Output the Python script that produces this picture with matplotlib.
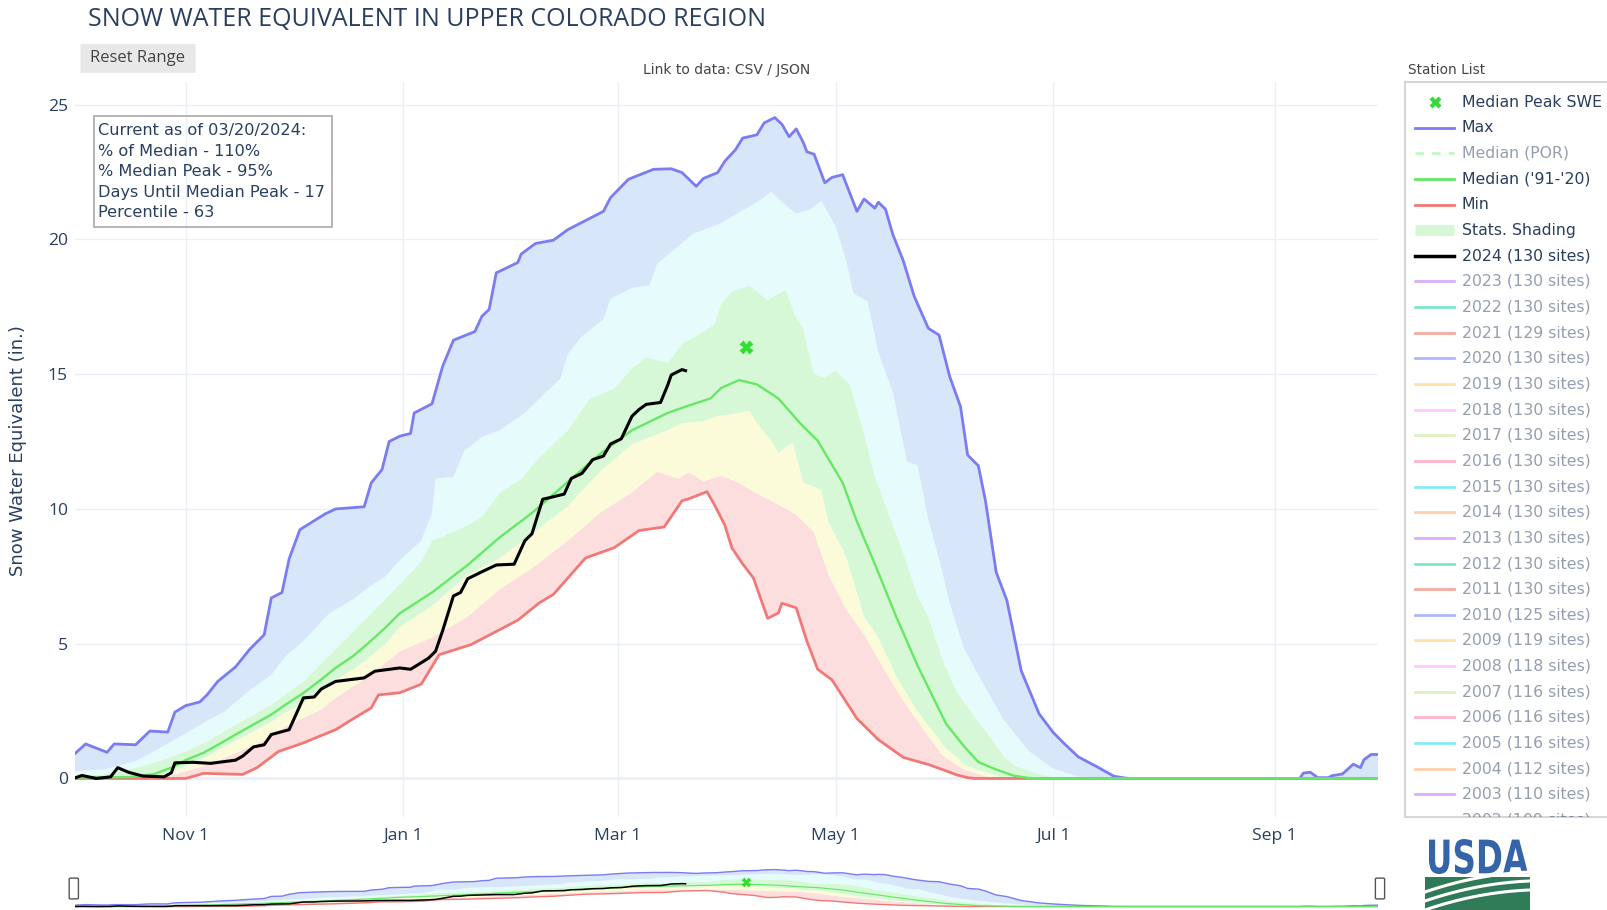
import numpy as np
import matplotlib
matplotlib.use('Agg')
import matplotlib.pyplot as plt
from matplotlib.patches import Rectangle, FancyBboxPatch, PathPatch
from matplotlib.textpath import TextPath
from matplotlib.font_manager import FontProperties
from matplotlib.path import Path
from datetime import date

plt.rcParams['font.family'] = ['Open Sans', 'DejaVu Sans']

# x = day of water year (0 = Oct 1 2023), y = SWE in inches
max_day = [0, 3, 9, 11, 17, 21, 26, 28, 31, 35, 37, 40, 45, 49, 53, 55, 58, 60, 63, 70,
           73, 81, 83, 86, 88, 91, 94, 95, 100, 103, 106, 112, 114, 116, 118, 124, 125, 129, 134, 138,
           143, 148, 150, 155, 162, 167, 170, 174, 176, 180, 182, 185, 187, 191, 193, 196, 198, 200, 202, 204,
           205, 207, 210, 212, 215, 219, 221, 224, 225, 227, 229, 232, 235, 237, 239, 242, 245, 248, 250, 253,
           255, 258, 261, 265, 270, 274, 277, 281, 286, 291, 295, 343, 344, 346, 348, 351, 352, 355, 358, 360,
           361, 363, 365]
max_swe = [0.92, 1.28, 0.97, 1.28, 1.25, 1.76, 1.72, 2.46, 2.70, 2.84, 3.1, 3.6, 4.14, 4.8, 5.33, 6.7, 6.9, 8.15, 9.23, 9.81,
           10.0, 10.08, 10.97, 11.46, 12.5, 12.7, 12.8, 13.56, 13.9, 15.3, 16.26, 16.58, 17.15, 17.4, 18.76, 19.14, 19.46, 19.85, 19.97, 20.36,
           20.7, 21.04, 21.55, 22.23, 22.6, 22.62, 22.48, 21.97, 22.26, 22.48, 22.9, 23.33, 23.76, 23.88, 24.32, 24.52, 24.27, 23.81, 24.1, 23.59,
           23.25, 23.16, 22.1, 22.3, 22.4, 21.04, 21.5, 21.16, 21.38, 21.12, 20.2, 19.2, 17.9, 17.3, 16.7, 16.45, 14.9, 13.8, 12.0, 11.6,
           10.3, 7.65, 6.6, 4.0, 2.4, 1.7, 1.3, 0.8, 0.45, 0.08, 0.0, 0.0, 0.2, 0.23, 0.03, 0.03, 0.1, 0.17, 0.53, 0.4,
           0.7, 0.89, 0.89]

p90_day = [0, 8, 17, 23, 28, 36, 42, 48, 55, 59, 64, 71, 78, 83, 87, 91, 97, 100, 101, 106,
           109, 114, 119, 126, 129, 136, 138, 142, 148, 150, 156, 161, 163, 166, 173, 181, 186, 192, 195, 198,
           202, 206, 209, 213, 216, 218, 222, 225, 229, 233, 236, 239, 242, 245, 249, 253, 260, 267, 274, 281,
           286, 365]
p90_swe = [0.27, 0.33, 0.64, 1.07, 1.44, 2.06, 2.49, 3.17, 3.85, 4.53, 5.1, 6.1, 6.66, 7.16, 7.5, 8.1, 8.82, 9.85, 11.13, 11.19,
           12.15, 12.67, 12.92, 13.56, 13.95, 14.85, 15.74, 16.4, 17.04, 17.8, 18.2, 18.3, 19.08, 19.42, 20.2, 20.6, 21.0, 21.46, 21.77, 21.38,
           20.95, 21.12, 21.43, 20.5, 19.2, 18.0, 17.7, 15.8, 14.36, 11.75, 11.62, 9.6, 8.15, 6.49, 4.83, 3.84, 2.19, 1.03, 0.36, 0.07,
           0.0, 0.0]

p70_day = [0, 8, 17, 25, 31, 38, 45, 55, 64, 73, 82, 91, 97, 100, 109, 114, 119, 125, 130, 138,
           144, 151, 156, 160, 166, 170, 175, 179, 181, 184, 189, 194, 199, 202, 204, 207, 210, 213, 217, 221,
           224, 228, 232, 236, 239, 243, 247, 252, 256, 260, 263, 269, 275, 280, 365]
p70_swe = [0.09, 0.15, 0.40, 0.70, 1.01, 1.44, 2.0, 2.74, 3.6, 4.8, 6.0, 7.22, 8.05, 8.82, 9.33, 9.72, 10.6, 11.13, 11.9, 12.92,
           14.08, 14.46, 15.23, 15.62, 15.42, 16.13, 16.5, 16.84, 17.62, 18.08, 18.28, 17.75, 18.15, 17.1, 16.7, 15.0, 14.88, 15.14, 14.62, 12.8,
           11.23, 9.79, 8.36, 6.79, 6.0, 4.4, 3.2, 2.3, 1.6, 0.85, 0.5, 0.2, 0.02, 0.0, 0.0]

med_day = [0, 15, 22, 27, 31, 36, 41, 45, 50, 55, 59, 64, 69, 73, 78, 82, 87, 91, 100, 110,
           119, 128, 138, 147, 156, 166, 172, 178, 181, 186, 191, 197, 203, 208, 215, 219, 224, 230, 236, 240,
           244, 249, 253, 258, 263, 267, 270, 365]
med_swe = [0.03, 0.05, 0.15, 0.4, 0.68, 0.95, 1.32, 1.63, 2.0, 2.37, 2.74, 3.17, 3.67, 4.1, 4.55, 5.0, 5.6, 6.13, 6.9, 7.92,
           8.95, 9.85, 11.0, 12.03, 12.92, 13.56, 13.84, 14.1, 14.49, 14.78, 14.62, 14.1, 13.19, 12.53, 10.97, 9.53, 7.96, 6.0, 4.18, 3.1,
           2.02, 1.19, 0.61, 0.33, 0.1, 0.02, 0.0, 0.0]

p30_day = [0, 20, 26, 31, 36, 41, 45, 50, 55, 59, 64, 69, 73, 78, 82, 87, 91, 100, 110, 119,
           128, 138, 147, 156, 166, 170, 176, 180, 184, 189, 191, 195, 197, 201, 204, 209, 211, 216, 221, 225,
           230, 236, 240, 244, 247, 249, 253, 256, 260, 263, 365]
p30_swe = [0.0, 0.0, 0.2, 0.45, 0.75, 1.1, 1.4, 1.75, 2.1, 2.45, 2.8, 3.25, 3.65, 4.05, 4.45, 5.0, 5.62, 6.4, 7.54, 8.18,
           9.08, 10.1, 11.38, 12.4, 12.92, 13.18, 13.25, 13.45, 13.51, 13.64, 13.19, 12.53, 12.08, 12.47, 10.97, 10.7, 9.53, 8.22, 6.0, 5.22,
           3.79, 2.48, 1.8, 1.1, 0.78, 0.53, 0.3, 0.2, 0.03, 0.0, 0.0]

p10_day = [0, 22, 27, 31, 36, 41, 45, 50, 55, 59, 64, 69, 73, 78, 83, 87, 91, 100, 110, 119,
           128, 138, 147, 156, 163, 169, 172, 176, 181, 186, 190, 195, 202, 207, 211, 216, 221, 226, 232, 238,
           243, 249, 255, 260, 365]
p10_swe = [0.0, 0.0, 0.11, 0.27, 0.46, 0.70, 0.95, 1.22, 1.57, 1.94, 2.25, 2.56, 2.99, 3.42, 3.85, 4.3, 4.72, 5.23, 6.0, 7.03,
           7.8, 8.82, 9.85, 10.62, 11.38, 11.13, 11.36, 11.03, 11.23, 10.97, 10.64, 10.31, 9.79, 9.14, 7.57, 6.27, 5.35, 4.18, 2.87, 1.75,
           0.85, 0.33, 0.08, 0.0, 0.0]

min_day = [0, 31, 34, 36, 47, 51, 57, 64, 73, 79, 83, 85, 91, 97, 102, 111, 124, 130, 134, 143,
           151, 158, 165, 170, 172, 177, 179, 182, 184, 187, 190, 194, 197, 198, 202, 205, 208, 212, 219, 225,
           232, 239, 244, 247, 250, 252, 365]
min_swe = [0.0, 0.0, 0.11, 0.19, 0.15, 0.4, 1.0, 1.32, 1.81, 2.3, 2.62, 3.1, 3.18, 3.5, 4.59, 4.97, 5.87, 6.51, 6.83, 8.18,
           8.56, 9.2, 9.33, 10.3, 10.38, 10.64, 10.18, 9.4, 8.55, 7.96, 7.44, 5.94, 6.14, 6.5, 6.33, 5.09, 4.05, 3.66, 2.22, 1.44,
           0.78, 0.52, 0.28, 0.13, 0.03, 0.0, 0.0]

wy2024_day = [0, 2, 6, 10, 12, 15, 19, 25, 27, 28, 33, 38, 45, 47, 50, 53, 55, 60, 64, 67,
              69, 73, 81, 84, 91, 94, 99, 101, 103, 106, 108, 110, 114, 118, 123, 126, 128, 131, 133, 137,
              139, 142, 145, 148, 150, 153, 156, 158, 160, 164, 166, 167, 170, 171]
wy2024_swe = [0.02, 0.11, 0.0, 0.06, 0.4, 0.23, 0.09, 0.06, 0.21, 0.58, 0.6, 0.56, 0.68, 0.83, 1.17, 1.25, 1.63, 1.81, 2.99, 3.02,
              3.32, 3.6, 3.73, 3.98, 4.1, 4.05, 4.46, 4.72, 5.49, 6.77, 6.9, 7.41, 7.67, 7.92, 7.95, 8.82, 9.08, 10.36, 10.42, 10.55,
              11.13, 11.32, 11.83, 11.96, 12.41, 12.6, 13.44, 13.69, 13.88, 13.95, 14.59, 14.97, 15.17, 15.13]

peak_day = 188
peak_swe = 16.0

info_lines = ["Current as of 03/20/2024:", "% of Median - 110%", "% Median Peak - 95%",
              "Days Until Median Peak - 17", "Percentile - 63"]

tick_dates = [date(2023, 11, 1), date(2024, 1, 1), date(2024, 3, 1),
              date(2024, 5, 1), date(2024, 7, 1), date(2024, 9, 1)]
wy_start = date(2023, 10, 1)

years = list(range(2023, 2001, -1))
year_sites = [130, 130, 129, 130, 130, 130, 130, 130, 130, 130, 130, 130, 130, 125, 119, 118, 116, 116, 116, 112, 110, 109]
year_colors = ['#ab63fa', '#00cc96', '#EF553B', '#636efa', '#FECB52', '#FF97FF', '#B6E880', '#FF6692', '#19d3f3', '#FFA15A']

MAX_C = '#7b7cf2'
MIN_C = '#f27878'
MED_C = '#66e866'
TXT = '#2a3f5f'
W, H = 1608, 910

fig = plt.figure(figsize=(W / 100, H / 100), dpi=100)


def fig_xy(x, y):
    return x / W, 1 - y / H


def draw_traces(ax, lw):
    bands = [(min_day, min_swe, p10_day, p10_swe, '#fcdede'),
             (p10_day, p10_swe, p30_day, p30_swe, '#fbfbd9'),
             (p30_day, p30_swe, p70_day, p70_swe, '#d7f8d7'),
             (p70_day, p70_swe, p90_day, p90_swe, '#e6fbfb'),
             (p90_day, p90_swe, max_day, max_swe, '#d7e6f9')]
    for d1, v1, d2, v2, c in bands:
        xs = np.concatenate([d1, d2[::-1]])
        ys = np.concatenate([v1, v2[::-1]])
        ax.fill(xs, ys, color=c, lw=0, zorder=1)
    ax.plot(max_day, max_swe, color=MAX_C, lw=lw, zorder=3)
    ax.plot(min_day, min_swe, color=MIN_C, lw=lw, zorder=3)
    ax.plot(med_day, med_swe, color=MED_C, lw=lw * 0.85, zorder=4)
    ax.plot(wy2024_day, wy2024_swe, color='black', lw=lw * 1.1, zorder=5)
    ax.plot([peak_day], [peak_swe], ls='none', marker='X', ms=4 + 3 * lw, color='#33dd33', mec='none', zorder=6)


# main chart
ax = fig.add_axes([74.9 / W, 1 - 817 / H, 1303.4 / W, 735 / H])
draw_traces(ax, 2)
ax.set_xlim(0, 365)
ax.set_ylim(-1.43, 25.84)
ax.set_xticks([(d - wy_start).days for d in tick_dates])
ax.set_xticklabels([d.strftime('%b ') + str(d.day) for d in tick_dates])
ax.set_yticks(range(0, 26, 5))
ax.tick_params(length=0, labelsize=12.6, labelcolor=TXT)
ax.tick_params(axis='x', pad=8)
ax.tick_params(axis='y', pad=5)
ax.grid(True, color='#ebf0f8', lw=1)
ax.axhline(0, color='#ebf0f8', lw=2, zorder=0)
ax.set_axisbelow(True)
for s in ax.spines.values():
    s.set_visible(False)

fig.text(18.5 / W, 1 - 451 / H, 'Snow Water Equivalent (in.)', rotation=90,
         ha='center', va='center', fontsize=13, color=TXT, family=['DejaVu Sans'])
fig.text(*fig_xy(88, 20), 'SNOW WATER EQUIVALENT IN UPPER COLORADO REGION',
         ha='left', va='center', fontsize=18, color=TXT)

# reset button and small labels
fig.patches.append(FancyBboxPatch(fig_xy(82, 72), 112 / W, 27 / H, boxstyle='round,pad=0.001',
                                  transform=fig.transFigure, fc='#e8e8e8', ec='none'))
fig.text(*fig_xy(138, 58.5), 'Reset Range', ha='center', va='center', fontsize=12, color='#444444')
fig.text(*fig_xy(727, 70), 'Link to data: CSV / JSON', ha='center', va='center',
         fontsize=10, color='#444444', family=['DejaVu Sans'])
fig.text(*fig_xy(1408, 70), 'Station List', ha='left', va='center',
         fontsize=9.8, color='#444444', family=['DejaVu Sans'])

# info box
fig.patches.append(Rectangle(fig_xy(94.3, 226.6), (332 - 94.3) / W, (226.6 - 115.9) / H,
                             transform=fig.transFigure, fill=False, ec='#a8a8a8', lw=1.2))
for i, line in enumerate(info_lines):
    fig.text(*fig_xy(98, 130.5 + 20.5 * i), line, ha='left', va='center',
             fontsize=11.6, color=TXT, family=['DejaVu Sans'])

# legend panel
lax = fig.add_axes([1405 / W, 1 - 817 / H, 0.2, 735 / H])
lax.set_xlim(1405, 1405 + 0.2 * W)
lax.set_ylim(817, 82)
lax.set_xticks([])
lax.set_yticks([])
for s in lax.spines.values():
    s.set_color('#d6d6d6')
    s.set_linewidth(1.5)

entries = [('Median Peak SWE', 'peak', '#33dd33', True),
           ('Max', 'line', MAX_C, True),
           ('Median (POR)', 'dash', '#88ee88', False),
           ("Median ('91-'20)", 'line', MED_C, True),
           ('Min', 'line', MIN_C, True),
           ('Stats. Shading', 'shade', '#d7f8d7', True),
           ('2024 (130 sites)', 'line', 'black', True)]
for i, (yr, n) in enumerate(zip(years, year_sites)):
    entries.append((f'{yr} ({n} sites)', 'line', year_colors[i % 10], False))

for i, (label, kind, c, active) in enumerate(entries):
    y = 102 + 25.64 * i
    a = 1.0 if active else 0.5
    if kind == 'peak':
        lax.plot([1435], [y], marker='X', ms=8, color=c, mec='none')
    elif kind == 'shade':
        lax.plot([1415, 1454], [y, y], color=c, lw=8, solid_capstyle='butt')
    elif kind == 'dash':
        lax.plot([1415, 1454], [y, y], color=c, lw=2, ls=(0, (3, 3)), alpha=a)
    else:
        lax.plot([1415, 1454], [y, y], color=c, lw=2.5 if c == 'black' else 2, alpha=a)
    lax.text(1462, y, label, ha='left', va='center', fontsize=11.3, color=TXT, alpha=a,
             family=['DejaVu Sans'], clip_on=True)

# range slider
sax = fig.add_axes([74.9 / W, 0, 1303.4 / W, 44 / H])
draw_traces(sax, 1)
sax.set_xlim(0, 365)
sax.set_ylim(-2.3, 26.9)
sax.axis('off')
for gx in (70.8, 1377):
    fig.patches.append(FancyBboxPatch(fig_xy(gx, 898), 6 / W, 19 / H, boxstyle='round,pad=0.001',
                                      transform=fig.transFigure, fc='white', ec='#555555', lw=1))

# USDA logo (pixel coordinates, y downwards)
lgax = fig.add_axes([1420 / W, 0, 115 / W, 85 / H])
lgax.set_xlim(1420, 1535)
lgax.set_ylim(910, 825)
lgax.axis('off')
tp = TextPath((0, 0), 'USDA', size=1, prop=FontProperties(family='DejaVu Sans', weight='bold'))
v = tp.vertices
x0, x1 = v[:, 0].min(), v[:, 0].max()
y0, y1 = v[:, 1].min(), v[:, 1].max()
nv = np.column_stack([1426 + (v[:, 0] - x0) / (x1 - x0) * 102,
                      874 - (v[:, 1] - y0) / (y1 - y0) * 35])
lgax.add_patch(PathPatch(Path(nv, tp.codes), fc='#3564a8', ec='none'))
lgax.add_patch(Rectangle((1425, 877), 105, 33, fc='#2f7a57', ec='none'))
t = np.linspace(0, 1, 40)
for off in (0, 9, 18):
    lgax.plot(1425 + 105 * t, 876 + off + 16 * (1 - t) ** 2 - 4 * t, color='white', lw=2.2)

fig.savefig('out.png', dpi=100, facecolor='white')
